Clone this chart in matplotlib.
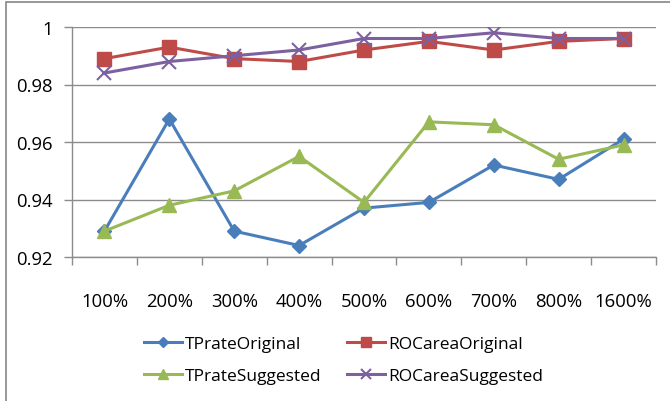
import matplotlib
matplotlib.use("Agg")
import matplotlib.pyplot as plt
from matplotlib.patches import Rectangle
import numpy as np

categories = ["100%", "200%", "300%", "400%", "500%", "600%", "700%", "800%", "1600%"]
tprate_original = [0.929, 0.968, 0.929, 0.924, 0.937, 0.939, 0.952, 0.947, 0.961]
rocarea_original = [0.989, 0.993, 0.989, 0.988, 0.992, 0.995, 0.992, 0.995, 0.996]
tprate_suggested = [0.929, 0.938, 0.943, 0.955, 0.939, 0.967, 0.966, 0.954, 0.959]
rocarea_suggested = [0.984, 0.988, 0.990, 0.992, 0.996, 0.996, 0.998, 0.996, 0.996]
y_ticks = [0.92, 0.94, 0.96, 0.98, 1.0]
y_tick_labels = ["0.92", "0.94", "0.96", "0.98", "1"]

plt.rcParams["font.family"] = ["Open Sans", "DejaVu Sans"]

fig = plt.figure(figsize=(6.7, 4.02), dpi=100)
fig.patch.set_facecolor("white")

# outer chart frame
fig.patches.append(Rectangle((6 / 670, -0.05), 1.2, 1 - 3 / 402 + 0.05,
                             transform=fig.transFigure, fill=False,
                             edgecolor="#868686", linewidth=1.2))

ax = fig.add_axes([72 / 670, 1 - 258 / 402, (656 - 72) / 670, (258 - 28) / 402])
x = np.arange(len(categories))

grid_c = "#8c8c8c"
series = [
    ("TPrateOriginal", tprate_original, "#4A7EBB", "D", 7.5),
    ("ROCareaOriginal", rocarea_original, "#BE4B48", "s", 9.5),
    ("TPrateSuggested", tprate_suggested, "#98B954", "^", 9.5),
    ("ROCareaSuggested", rocarea_suggested, "#7D60A0", "x", 9.5),
]
handles = {}
for name, vals, col, mk, ms in series:
    kw = dict(markeredgewidth=1.5) if mk == "x" else dict(markeredgecolor=col)
    h, = ax.plot(x, vals, color=col, linewidth=2.2, marker=mk, markersize=ms,
                 markerfacecolor=col, label=name, **kw)
    handles[name] = h

ax.set_xlim(-0.5, len(categories) - 0.5)
ax.set_ylim(0.92, 1.0)
ax.set_yticks(y_ticks)
ax.set_yticklabels(y_tick_labels)
ax.set_xticks(x)
ax.set_xticklabels(categories)
ax.set_xticks(np.arange(-0.5, len(categories), 1.0), minor=True)

ax.grid(axis="y", color=grid_c, linewidth=1.0)
ax.set_axisbelow(True)
for s in ["top", "right"]:
    ax.spines[s].set_visible(False)
for s in ["left", "bottom"]:
    ax.spines[s].set_color(grid_c)
    ax.spines[s].set_linewidth(1.0)

ax.tick_params(axis="x", which="major", length=0, pad=25, labelsize=13.3, colors="black")
ax.tick_params(axis="x", which="minor", length=6, color=grid_c, width=1.0)
ax.tick_params(axis="y", length=6, color=grid_c, width=1.0, pad=8, labelsize=13.3)

# legend laid out row by row: Original pair on top, Suggested pair below
order = ["TPrateOriginal", "TPrateSuggested", "ROCareaOriginal", "ROCareaSuggested"]
fig.legend(handles=[handles[k] for k in order], loc="center",
           bbox_to_anchor=(0.513, 1 - 361 / 402),
           ncol=2, frameon=False, fontsize=12.5, handlelength=2.2,
           handletextpad=0.17, columnspacing=1.45, labelspacing=0.95,
           markerscale=0.7)

fig.savefig("out.png", dpi=100, facecolor="white")
